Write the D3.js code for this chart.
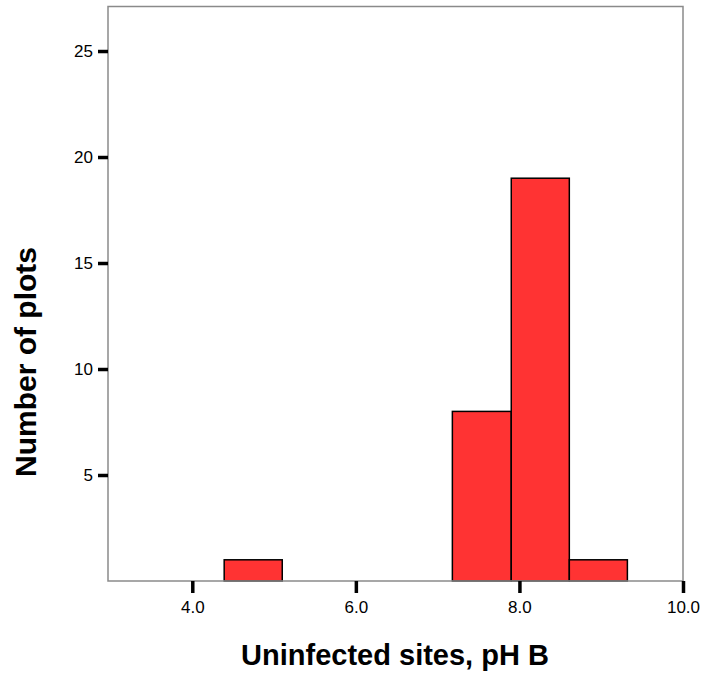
<!DOCTYPE html>
<html>
<head>
<meta charset="utf-8">
<script src="https://cdn.jsdelivr.net/npm/d3@7"></script>
<style>
  html, body { margin: 0; padding: 0; background: #fff; }
  svg { display: block; }
</style>
</head>
<body>
<svg id="chart" width="704" height="681"></svg>
<script>
// Histogram bins: lower edge, upper edge, count of plots
const binLower = [4.39, 7.18, 7.90, 8.61];
const binUpper = [5.10, 7.90, 8.61, 9.32];
const binCounts = [1, 8, 19, 1];

const xTicks = [4, 6, 8, 10];
const yTicks = [5, 10, 15, 20, 25];

const xTitle = "Uninfected sites, pH B";
const yTitle = "Number of plots";

const bins = binLower.map((x0, i) => ({ x0, x1: binUpper[i], n: binCounts[i] }));

const svg = d3.select("#chart");
const font = "'Liberation Sans', Arial, Helvetica, sans-serif";

const x = d3.scaleLinear().domain([3, 10]).range([110.5, 683]);
const y = d3.scaleLinear().domain([0, 27.1]).range([581, 6.5]);

const frame = { left: 108, right: 683, top: 6.5, bottom: 581 };

// bars
svg.append("g")
  .selectAll("rect")
  .data(bins)
  .join("rect")
  .attr("x", d => x(d.x0))
  .attr("y", d => y(d.n))
  .attr("width", d => x(d.x1) - x(d.x0))
  .attr("height", d => y(0) - y(d.n))
  .attr("fill", "#ff3333")
  .attr("stroke", "#000")
  .attr("stroke-width", 1.5);

// plot frame
svg.append("rect")
  .attr("x", frame.left)
  .attr("y", frame.top)
  .attr("width", frame.right - frame.left)
  .attr("height", frame.bottom - frame.top)
  .attr("fill", "none")
  .attr("stroke", "#8a8a8a")
  .attr("stroke-width", 1.5);

// y axis
const yAxis = d3.axisLeft(y).tickValues(yTicks).tickFormat(d3.format("d"))
  .tickSize(10).tickPadding(5);
const gy = svg.append("g").attr("transform", `translate(${frame.left},0)`).call(yAxis);
gy.select(".domain").remove();
gy.selectAll(".tick line").attr("stroke", "#000").attr("stroke-width", 3.5);
gy.selectAll(".tick text")
  .attr("font-family", font).attr("font-size", 17).attr("fill", "#000");

// x axis
const xAxis = d3.axisBottom(x).tickValues(xTicks).tickFormat(d3.format(".1f"))
  .tickSize(12).tickPadding(8);
const gx = svg.append("g").attr("transform", `translate(0,${frame.bottom})`).call(xAxis);
gx.select(".domain").remove();
gx.selectAll(".tick line").attr("stroke", "#000").attr("stroke-width", 3.5);
gx.selectAll(".tick text")
  .attr("font-family", font).attr("font-size", 17).attr("fill", "#000");

// axis titles
svg.append("text")
  .attr("x", 395).attr("y", 665)
  .attr("text-anchor", "middle")
  .attr("font-family", font).attr("font-weight", "bold").attr("font-size", 29)
  .attr("fill", "#000")
  .text(xTitle);

svg.append("text")
  .attr("transform", "translate(36,362) rotate(-90)")
  .attr("text-anchor", "middle")
  .attr("font-family", font).attr("font-weight", "bold").attr("font-size", 30)
  .attr("fill", "#000")
  .text(yTitle);
</script>
</body>
</html>
